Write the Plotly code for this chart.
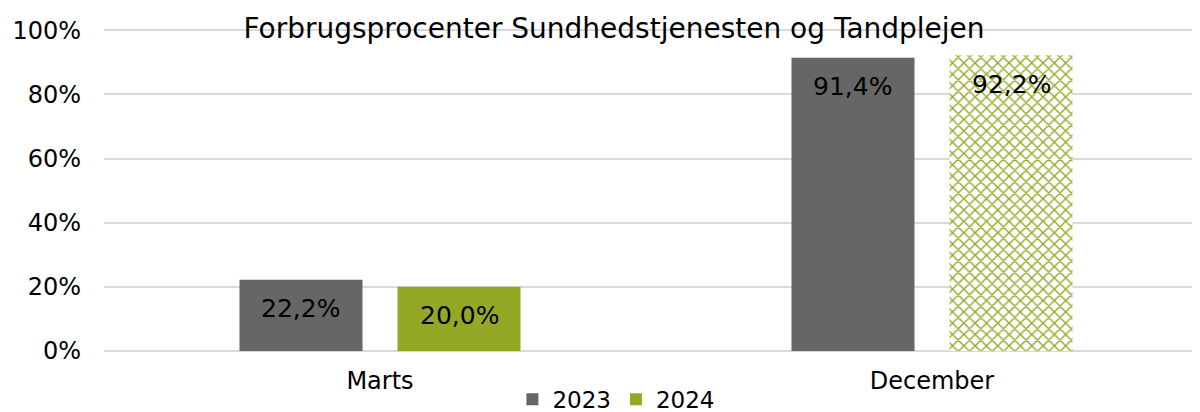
import plotly.graph_objects as go

categories = ["Marts", "December"]
years = ["2023", "2024"]
values_2023 = [22.2, 91.4]
values_2024 = [20.0, 92.2]
y_ticks = [0, 20, 40, 60, 80, 100]
y_tick_labels = ["0%", "20%", "40%", "60%", "80%", "100%"]
title_text = "Forbrugsprocenter Sundhedstjenesten og Tandplejen"

GRAY = "#666666"
GREEN = "#94A825"
FONT = "DejaVu Sans"

fig = go.Figure()
fig.add_trace(go.Bar(
    name=years[0], x=categories, y=values_2023,
    marker=dict(color=GRAY, line=dict(width=0)),
))
fig.add_trace(go.Bar(
    name=years[1], x=categories, y=values_2024,
    marker=dict(
        color=GREEN,
        line=dict(width=0),
        pattern=dict(shape=["", "x"], fgcolor=[GREEN, GREEN], bgcolor=["white", "white"],
                     size=8, solidity=0.32, fillmode="replace"),
    ),
))

# data labels
offset = 0.1435
annotations = []
for i, cat in enumerate(categories):
    for j, vals in enumerate([values_2023, values_2024]):
        v = vals[i]
        annotations.append(dict(
            x=i + (-offset if j == 0 else offset), y=v, xref="x", yref="y",
            text=f"{v:.1f}%".replace(".", ","), showarrow=False,
            yshift=-29, font=dict(family=FONT, size=25, color="#000000"),
        ))

fig.update_layout(
    width=1200, height=412,
    paper_bgcolor="white", plot_bgcolor="white",
    margin=dict(l=96, r=0, t=21, b=69, autoexpand=False),
    barmode="group", bargap=0.4275, bargroupgap=0.2215,
    font=dict(family=FONT, size=24, color="#000000"),
    title=dict(text=title_text, x=0.505, xanchor="center", yref="container",
               y=0.952, yanchor="middle",
               font=dict(family=FONT, size=28, color="#000000")),
    showlegend=True,
    legend=dict(orientation="h", xref="container", x=0.507, xanchor="center",
                yref="container", y=0.05, yanchor="middle",
                font=dict(family=FONT, size=23, color="#000000"),
                itemwidth=30, traceorder="normal", bgcolor="rgba(0,0,0,0)"),
    annotations=annotations,
    xaxis=dict(range=[-0.5, 1.5], showgrid=False, showline=False, zeroline=False,
               ticks="", automargin=False, ticklabelstandoff=13,
               tickfont=dict(family=FONT, size=24, color="#000000")),
    yaxis=dict(range=[0, 100.4], tickmode="array", tickvals=y_ticks, ticktext=y_tick_labels,
               showgrid=True, gridcolor="#D9D9D9", gridwidth=2,
               zeroline=True, zerolinecolor="#D9D9D9", zerolinewidth=2,
               showline=False, ticks="", ticklabelstandoff=22, automargin=False,
               tickfont=dict(family=FONT, size=24, color="#000000")),
)

fig.write_html("out.html")
